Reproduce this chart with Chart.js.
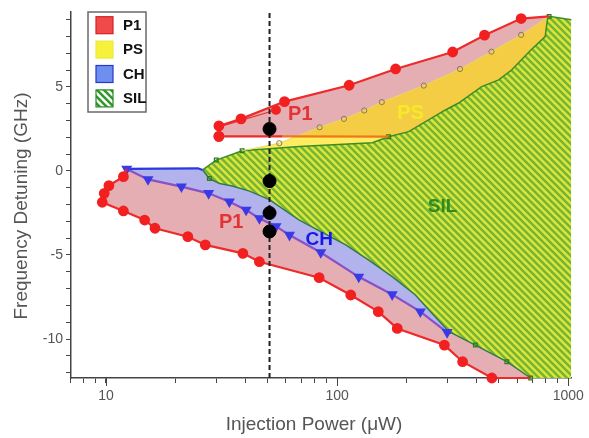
<!DOCTYPE html>
<html><head><meta charset="utf-8">
<script src="https://cdn.jsdelivr.net/npm/chart.js@4/dist/chart.umd.min.js"></script>
<style>html,body{margin:0;padding:0;background:#fff}canvas{display:block}</style>
</head><body>
<canvas id="c" width="589" height="438"></canvas>
<script>
// ---------- DATA (injection power µW, detuning GHz) ----------
const xTickValues = [7,8,9,10,20,30,40,50,60,70,80,90,100,200,300,400,500,600,700,800,900,1000];
const xTickLabels = [10,100,1000];
const yTickValues = [-12,-11,-10,-9,-8,-7,-6,-5,-4,-3,-2,-1,0,1,2,3,4,5,6,7,8,9];
const yTickLabels = [-10,-5,0,5];
const xTitle = 'Injection Power (μW)';
const yTitle = 'Frequency Detuning (GHz)';

// SIL boundary
const silTop = [[26.2,0.06],[30,0.65],[38.8,1.2],[68.6,1.45],[142,1.68],[167,2.04],[204,2.34],[294,3.63],[334,4.03],[422,5.02],[500,5.42],[568,6.01],[689,7.2],[794,8.0],[812,9.0],[826,9.2]];
const silRight = [[1030,9.0],[1030,-12.32]];
const silLower = [[26.2,0.06],[28,-0.45],[31,-0.75],[35.2,-0.9],[41.8,-1.2],[50.9,-1.7],[68.6,-2.92],[108.9,-4.4],[137,-5.3],[173,-6.29],[218,-7.38],[257,-8.47],[304,-9.55],[396,-10.36],[542,-11.35],[687,-12.32]];
// P1 (upper branch)
const p1Top = [[30.8,2.06],[30.8,2.68],[38.4,3.1],[59.2,4.13],[112.7,5.1],[179,6.07],[316,7.08],[434,8.08],[625,9.07],[826,9.2]];
const p1Inner = [[30.8,2.62],[54.4,3.63]];
const p1Bottom = [[58,2.06],[30.8,2.06]];
const p1PsEdge = [[58,2.06],[167,2.04]];
// PS
const psTop = [[38.8,1.2],[56.2,1.65],[84,2.6],[107,3.1],[131,3.6],[156,4.1],[237,5.08],[340,6.07],[465,7.1],[625,8.1],[826,9.2]];
// CH
const chTop = [[12.3,0.12],[25,0.16],[26.2,0.06]];
const chLower = [[12.3,0.12],[15.2,-0.5],[21.2,-0.93],[27.8,-1.33],[34.2,-1.83],[40.4,-2.32],[46.1,-2.82],[54.4,-3.3],[62.2,-3.81],[85,-4.85],[124,-6.3],[173,-7.35],[229,-8.37],[299,-9.6]];
// P1 (lower branch)
const p1Lower = [[12.3,0.12],[11.9,-0.34],[10.3,-0.87],[9.83,-1.33],[9.64,-1.86],[11.9,-2.38],[14.7,-2.92],[16.3,-3.41],[22.6,-3.91],[26.9,-4.4],[39.1,-4.9],[46.1,-5.4],[83.6,-6.35],[114.5,-7.38],[150.6,-8.37],[182,-9.37],[291,-10.36],[349,-11.35],[467,-12.32],[687,-12.32]];
// measurement points on the dashed line
const markPower = 51;
const markDetuning = [2.5,-0.6,-2.5,-3.6];
// region labels
const regionNames = ['P1','PS','SIL','P1','CH'];
const regionX = [69.3,207.6,286,34.8,83.6];
const regionY = [3.39,3.42,-2.14,-3.07,-4.08];

// ---------- helpers ----------
const X_MIN = 7.06, X_MAX = 1030, Y_MIN = -12.32, Y_MAX = 9.46;
const F = "'Liberation Sans', Arial, sans-serif";
const pts = a => a.map(([x,y]) => ({x, y}));
const rev = a => a.slice().reverse();

function hatch(bg, fg) {
  const t = document.createElement('canvas'); t.width = t.height = 7;
  const c = t.getContext('2d');
  c.fillStyle = bg; c.fillRect(0,0,7,7);
  c.strokeStyle = fg; c.lineWidth = 2.6;
  c.beginPath();
  c.moveTo(-1,-1); c.lineTo(8,8);
  c.moveTo(-1,6); c.lineTo(1,8);
  c.moveTo(6,-1); c.lineTo(8,1);
  c.stroke();
  return document.getElementById('c').getContext('2d').createPattern(t,'repeat');
}
const silPattern = hatch('#dbe63c', '#78b434');

const i167 = silTop.findIndex(p => p[0] === 167);
const i304 = silLower.findIndex(p => p[0] === 304);
const silPoly = silTop.concat(silRight, rev(silLower));
const p1UpperPoly = p1Top.concat(rev(silTop.slice(i167)));
const psPoly = psTop.concat(rev(silTop.slice(2)));
const chPoly = chTop.concat(silLower.slice(1, i304 + 1), rev(chLower));
const p1LowerPoly = p1Lower.concat(rev(silLower.slice(i304)), rev(chLower));

function area(data, color) {
  return {data: pts(data), showLine: true, fill: 'shape', backgroundColor: color,
    borderColor: 'rgba(0,0,0,0)', borderWidth: 1, pointRadius: 0, tension: 0};
}
function line(data, color, width, extra) {
  return Object.assign({data: pts(data), showLine: true, fill: false, borderColor: color,
    borderWidth: width, pointRadius: 0, tension: 0, clip: false}, extra || {});
}
const inner = (n, r) => Array.from({length: n}, (_, i) => (i === 0 || i === n - 1) ? 0 : r);

const layers = [
  area(silPoly, silPattern),
  area(p1UpperPoly, 'rgba(200,85,95,0.48)'),
  area(p1LowerPoly, 'rgba(200,85,95,0.48)'),
  area(psPoly, 'rgba(255,225,0,0.62)'),
  area(chPoly, 'rgba(115,115,220,0.55)'),
  line(silTop.concat([[1030,9.0]]), '#3c8c28', 1.5, {pointStyle:'rect', pointRadius: silTop.map((p,i)=> [1,2,5,15].includes(i)?2.6:0).concat([0]), pointBackgroundColor:'rgba(0,0,0,0)', pointBorderColor:'#2a7a20', pointBorderWidth:1.2}),
  line(silLower, '#2e7a52', 1.5, {pointStyle:'rect', pointRadius: silLower.map((p,i)=> [1,12,13,14,15].includes(i)?2.6:0), pointBackgroundColor:'rgba(0,0,0,0)', pointBorderColor:'#2a7a20', pointBorderWidth:1.2}),
  line(psTop, '#e6d860', 1, {pointRadius: inner(psTop.length, 2.6), pointBackgroundColor:'rgba(0,0,0,0)', pointBorderColor:'#8a7a50', pointBorderWidth:1}),
  line(p1PsEdge, '#f07818', 2.2),
  line(p1Bottom, '#ee2a2a', 2.2, {pointRadius:[0,4.3], pointBackgroundColor:'#f22020', pointBorderColor:'#f22020'}),
  line(p1Inner, '#ee2a2a', 1.2, {pointRadius:[0,4.3], pointBackgroundColor:'#f22020', pointBorderColor:'#f22020'}),
  line(p1Top, '#ee2a2a', 2.2, {pointRadius: p1Top.map((p,i)=> i === p1Top.length-1 ? 0 : 4.3), pointBackgroundColor:'#f22020', pointBorderColor:'#f22020'}),
  line(chTop, '#2a3ae0', 2.2),
  line(chLower, '#8a50c8', 2.2, {pointStyle:'triangle', rotation:180, pointRadius: chLower.map(()=>4.2), pointBackgroundColor:'#3a3ae6', pointBorderColor:'#3a3ae6'}),
  line(p1Lower, '#ee2a2a', 2.2, {pointRadius: inner(p1Lower.length, 4.3), pointBackgroundColor:'#f22020', pointBorderColor:'#f22020'}),
  line([[markPower, Y_MIN],[markPower, Y_MAX]], '#222', 2, {borderDash:[5,3]}),
  {data: markDetuning.map(y => ({x: markPower, y})), showLine:false, pointRadius:6.5, pointBackgroundColor:'#000', pointBorderColor:'#000', clip:false}
];
layers.forEach((d, i) => { d.order = layers.length - i; });

const legendItems = [
  {label:'P1', fill:'#f04a4a', stroke:'#d42222'},
  {label:'PS', fill:'#f6f23c', stroke:'#ecea40'},
  {label:'CH', fill:'#6e8ff0', stroke:'#2438d0'},
  {label:'SIL', fill:null, stroke:'#2a8a20'}
];
const labelColors = ['#e23434','#f4ea28','#2e8a22','#e23434','#1818e6'];
const labelSizes = [20,20,19,20,19];

const deco = {
  id: 'deco',
  afterDatasetsDraw(chart) {
    const {ctx, scales:{x, y}} = chart;
    ctx.save();
    ctx.textAlign = 'center'; ctx.textBaseline = 'middle';
    regionNames.forEach((t, i) => {
      ctx.font = `bold ${labelSizes[i]}px ${F}`;
      ctx.fillStyle = labelColors[i];
      ctx.fillText(t, x.getPixelForValue(regionX[i]), y.getPixelForValue(regionY[i]));
    });
    ctx.restore();
  },
  afterDraw(chart) {
    const {ctx, chartArea: ca, scales:{x}} = chart;
    ctx.save();
    // longer ticks for labelled decades
    ctx.strokeStyle = '#444'; ctx.lineWidth = 1;
    xTickLabels.forEach(v => {
      const px = Math.round(x.getPixelForValue(v)) + 0.5;
      ctx.beginPath(); ctx.moveTo(px, ca.bottom); ctx.lineTo(px, ca.bottom + 8); ctx.stroke();
    });
    // axis titles
    ctx.fillStyle = '#555'; ctx.font = `19px ${F}`;
    ctx.textAlign = 'center'; ctx.textBaseline = 'middle';
    ctx.fillText(xTitle, ca.left + 243, ca.bottom + 47);
    ctx.save();
    ctx.translate(22, ca.top + 194); ctx.rotate(-Math.PI / 2);
    ctx.fillText(yTitle, 0, 0);
    ctx.restore();
    // legend
    const L = ca.left + 17, T = ca.top;
    ctx.fillStyle = '#fff'; ctx.fillRect(L, T, 58, 100);
    ctx.strokeStyle = '#6a6a6a'; ctx.lineWidth = 1.5; ctx.strokeRect(L, T, 58, 100);
    legendItems.forEach((it, i) => {
      const sx = L + 8, sy = T + 4.7 + i * 24.4;
      if (it.fill) { ctx.fillStyle = it.fill; ctx.fillRect(sx, sy, 17, 17); }
      else { ctx.fillStyle = hatch('#ffffff', '#2e9a2a'); ctx.fillRect(sx, sy, 17, 17); }
      ctx.strokeStyle = it.stroke; ctx.lineWidth = 1.2; ctx.strokeRect(sx, sy, 17, 17);
      ctx.fillStyle = '#111'; ctx.font = `bold 15px ${F}`;
      ctx.textAlign = 'left'; ctx.textBaseline = 'middle';
      ctx.fillText(it.label, L + 35, sy + 9);
    });
    ctx.restore();
  }
};

new Chart(document.getElementById('c'), {
  type: 'scatter',
  data: {datasets: layers},
  plugins: [deco],
  options: {
    responsive: false, animation: false, events: [],
    layout: {padding: {top: 12, right: 16.5, left: 0, bottom: 0}},
    plugins: {legend: {display: false}, tooltip: {enabled: false}},
    scales: {
      x: {
        type: 'logarithmic', min: X_MIN, max: X_MAX,
        afterBuildTicks: s => { s.ticks = xTickValues.map(v => ({value: v})); },
        afterFit: s => { s.height = 60; },
        ticks: {autoSkip: false, maxRotation: 0, padding: 5, color: '#555', font: {size: 14, family: F},
          callback: v => xTickLabels.includes(v) ? String(v) : ''},
        grid: {display: true, drawOnChartArea: false, drawTicks: true, tickLength: 5, color: '#444'},
        border: {display: true, color: '#444', width: 1.5},
        title: {display: false}
      },
      y: {
        min: Y_MIN, max: Y_MAX,
        afterBuildTicks: s => { s.ticks = yTickValues.map(v => ({value: v})); },
        afterFit: s => { s.width = 71; },
        ticks: {autoSkip: false, padding: 3, color: '#555', font: {size: 14, family: F},
          callback: v => yTickLabels.includes(v) ? String(v) : ''},
        grid: {display: true, drawOnChartArea: false, drawTicks: true, tickLength: 5, color: '#444'},
        border: {display: true, color: '#444', width: 1.5},
        title: {display: false}
      }
    }
  }
});
</script></body></html>
